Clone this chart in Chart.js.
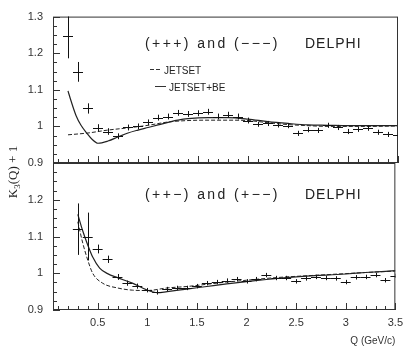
<!DOCTYPE html>
<html>
<head>
<meta charset="utf-8">
<script src="https://cdn.jsdelivr.net/npm/chart.js@4/dist/chart.umd.min.js"></script>
<style>
  body { margin: 0; background: #fff; }
  #wrap { position: relative; width: 409px; height: 347px; }
  canvas { position: absolute; left: 0; top: 0; }
</style>
</head>
<body>
<div id="wrap">
  <canvas id="top" width="409" height="347"></canvas>
  <canvas id="bot" width="409" height="347"></canvas>
</div>
<script>
// tick labels
const xTicks = [0.5, 1, 1.5, 2, 2.5, 3, 3.5];
const yTicksTop = [0.9, 1, 1.1, 1.2, 1.3];
const yTicksBot = [0.9, 1, 1.1, 1.2];

// top panel: (+++) and (---)
const qTop = [0.2, 0.3, 0.4, 0.5, 0.6, 0.7, 0.8, 0.9, 1.0, 1.1, 1.2, 1.3, 1.4, 1.5, 1.6, 1.7, 1.8,
  1.9, 2.0, 2.1, 2.2, 2.3, 2.4, 2.5, 2.6, 2.7, 2.8, 2.9, 3.0, 3.1, 3.2, 3.3, 3.4, 3.5];
const kTop = [1.246, 1.149, 1.049, 0.996, 0.986, 0.973, 0.997, 1.0, 1.011, 1.024, 1.027, 1.037, 1.034,
  1.036, 1.04, 1.027, 1.032, 1.027, 1.016, 1.006, 1.008, 1.004, 1.002, 0.981, 0.991, 0.989, 1.003,
  0.997, 0.986, 0.992, 0.995, 0.984, 0.978, 0.976];
const eTop = [0.06, 0.027, 0.014, 0.01, 0.009, 0.008, 0.008, 0.008, 0.008, 0.008, 0.008, 0.008, 0.008,
  0.008, 0.008, 0.008, 0.008, 0.008, 0.008, 0.007, 0.007, 0.007, 0.007, 0.007, 0.007, 0.007, 0.007,
  0.007, 0.007, 0.007, 0.007, 0.007, 0.007, 0.007];
const qJetTop = [0.2, 0.4, 0.6, 0.8, 1.0, 1.2, 1.4, 1.6, 1.8, 2.0, 2.2, 2.4, 2.6, 2.8, 3.0, 3.2, 3.5];
const jetTop = [0.977, 0.982, 0.99, 0.996, 1.003, 1.012, 1.016, 1.017, 1.017, 1.016, 1.01, 1.005,
  1.002, 1.0, 1.0, 1.0, 1.001];
const qBeTop = [0.2, 0.23, 0.28, 0.33, 0.39, 0.44, 0.5, 0.6, 0.7, 0.8, 0.9, 1.0, 1.1, 1.2, 1.3, 1.4,
  1.6, 1.8, 2.0, 2.2, 2.4, 2.6, 2.8, 3.0, 3.2, 3.5];
const beTop = [1.097, 1.07, 1.03, 1.003, 0.981, 0.965, 0.954, 0.96, 0.971, 0.982, 0.99, 0.997, 1.004,
  1.011, 1.017, 1.021, 1.024, 1.024, 1.02, 1.013, 1.008, 1.004, 1.003, 1.002, 1.002, 1.002];

// bottom panel: (++-) and (+--)
const qBot = [0.3, 0.4, 0.5, 0.6, 0.7, 0.8, 0.9, 1.0, 1.1, 1.2, 1.3, 1.4, 1.5, 1.6, 1.7, 1.8, 1.9,
  2.0, 2.1, 2.2, 2.3, 2.4, 2.5, 2.6, 2.7, 2.8, 2.9, 3.0, 3.1, 3.2, 3.3, 3.4, 3.5];
const kBot = [1.12, 1.10, 1.066, 1.038, 0.99, 0.973, 0.965, 0.954, 0.948, 0.957, 0.96, 0.96, 0.965,
  0.973, 0.976, 0.98, 0.984, 0.978, 0.984, 0.995, 0.987, 0.987, 0.978, 0.986, 0.99, 0.987, 0.986,
  0.976, 0.989, 0.99, 0.995, 0.981, 0.993];
const eBot = [0.07, 0.065, 0.012, 0.01, 0.008, 0.007, 0.007, 0.006, 0.006, 0.006, 0.006, 0.006, 0.006,
  0.006, 0.006, 0.006, 0.006, 0.006, 0.006, 0.006, 0.006, 0.006, 0.006, 0.006, 0.006, 0.006, 0.006,
  0.006, 0.006, 0.006, 0.006, 0.006, 0.006];
const qJetBot = [0.3, 0.35, 0.4, 0.45, 0.55, 0.7, 0.85, 1.0, 1.2, 1.4, 1.6, 1.8, 2.0, 2.2, 2.4, 2.6,
  2.8, 3.0, 3.2, 3.5];
const jetBot = [1.14, 1.082, 1.036, 1.0, 0.973, 0.96, 0.954, 0.953, 0.96, 0.964, 0.97, 0.976, 0.981,
  0.986, 0.99, 0.993, 0.996, 0.999, 1.002, 1.006];
const qBeBot = [0.3, 0.35, 0.4, 0.45, 0.52, 0.6, 0.7, 0.85, 1.0, 1.1, 1.2, 1.4, 1.6, 1.8, 2.0, 2.2,
  2.4, 2.6, 2.8, 3.0, 3.2, 3.5];
const beBot = [1.16, 1.115, 1.077, 1.044, 1.014, 0.999, 0.988, 0.973, 0.954, 0.947, 0.95, 0.957, 0.964,
  0.971, 0.977, 0.983, 0.988, 0.992, 0.995, 0.998, 1.002, 1.007];

const binHalf = 0.05;
const ink = '#222';
const font = 'Liberation Sans, Arial, sans-serif';

const pts = (xs, ys) => xs.map((x, i) => ({ x: x, y: ys[i] }));

function panelPlugin(q, k, e, texts, yTitle) {
  return {
    id: 'panel',
    afterDraw(chart) {
      const { ctx, chartArea: a, scales } = chart;
      const x = scales.x, y = scales.y;
      ctx.save();
      ctx.strokeStyle = '#333';
      ctx.lineWidth = 1;
      ctx.strokeRect(a.left + 0.5, a.top + 0.5, a.right - a.left - 1, a.bottom - a.top - 1);
      ctx.beginPath();
      for (let i = 1; i <= 35; i++) {
        const v = i / 10;
        if (v < x.min) continue;
        const px = Math.round(x.getPixelForValue(v)) + 0.5;
        const len = i % 5 === 0 ? 7 : 4;
        ctx.moveTo(px, a.bottom);
        ctx.lineTo(px, a.bottom - len);
      }
      for (let i = 0; i <= 16; i++) {
        const v = 0.9 + i * 0.025;
        const py = Math.round(y.getPixelForValue(v)) + 0.5;
        const len = i % 4 === 0 ? 7 : 4;
        ctx.moveTo(a.left, py);
        ctx.lineTo(a.left + len, py);
      }
      ctx.stroke();

      // data crosses with error bars
      ctx.save();
      ctx.beginPath();
      ctx.rect(a.left, a.top, a.right - a.left, a.bottom - a.top);
      ctx.clip();
      ctx.strokeStyle = '#111';
      ctx.beginPath();
      q.forEach((qv, i) => {
        const px = Math.round(x.getPixelForValue(qv)) + 0.5;
        const py = Math.round(y.getPixelForValue(k[i])) + 0.5;
        ctx.moveTo(x.getPixelForValue(qv - binHalf), py);
        ctx.lineTo(x.getPixelForValue(qv + binHalf), py);
        ctx.moveTo(px, y.getPixelForValue(k[i] + e[i]));
        ctx.lineTo(px, y.getPixelForValue(k[i] - e[i]));
      });
      ctx.stroke();
      ctx.restore();

      // annotations
      ctx.fillStyle = ink;
      ctx.textBaseline = 'middle';
      texts.forEach(t => {
        ctx.font = t.size + 'px ' + font;
        ctx.letterSpacing = (t.ls || 0) + 'px';
        ctx.fillText(t.text, t.x, t.y);
        if (t.sample) {
          ctx.beginPath();
          ctx.setLineDash(t.sample === 'dash' ? [4, 2] : []);
          ctx.moveTo(t.x - 14, t.y - 1.5);
          ctx.lineTo(t.x - 3, t.y - 1.5);
          ctx.stroke();
          ctx.setLineDash([]);
        }
      });
      ctx.letterSpacing = '0px';

      if (yTitle) {
        ctx.save();
        ctx.translate(13, 172);
        ctx.rotate(-Math.PI / 2);
        ctx.textBaseline = 'alphabetic';
        const f1 = '13px Liberation Serif, serif', f2 = '9px Liberation Serif, serif';
        ctx.font = f1; const wK = ctx.measureText('K').width;
        const wR = ctx.measureText('(Q) + 1').width;
        ctx.font = f2; const w3 = ctx.measureText('3').width;
        let sx = -(wK + w3 + wR) / 2;
        ctx.font = f1; ctx.fillText('K', sx, 4); sx += wK;
        ctx.font = f2; ctx.fillText('3', sx, 7); sx += w3;
        ctx.font = f1; ctx.fillText('(Q) + 1', sx, 4);
        ctx.restore();
      }
      ctx.restore();
    }
  };
}

function makeChart(id, cfg) {
  return new Chart(document.getElementById(id), {
    type: 'line',
    data: {
      datasets: [
        {
          label: 'JETSET',
          data: pts(cfg.qJet, cfg.jet),
          borderColor: ink,
          borderWidth: 1,
          borderDash: [4, 2],
          pointRadius: 0,
          cubicInterpolationMode: 'monotone'
        },
        {
          label: 'JETSET+BE',
          data: pts(cfg.qBe, cfg.be),
          borderColor: ink,
          borderWidth: 1.2,
          pointRadius: 0,
          cubicInterpolationMode: 'monotone'
        }
      ]
    },
    options: {
      responsive: false,
      animation: false,
      devicePixelRatio: 1,
      layout: { padding: cfg.padding },
      plugins: { legend: { display: false }, tooltip: { enabled: false } },
      scales: {
        x: {
          type: 'linear',
          min: 0.05,
          max: 3.5,
          grid: { display: false, drawTicks: false },
          border: { display: false },
          afterBuildTicks: s => { s.ticks = xTicks.map(v => ({ value: v })); },
          afterFit: s => { s.height = cfg.xHeight; },
          ticks: {
            display: cfg.xLabels,
            padding: 6,
            color: '#333',
            font: { family: font, size: 11 },
            maxRotation: 0,
            autoSkip: false,
            callback: v => String(v)
          },
          title: {
            display: cfg.xLabels,
            text: 'Q (GeV/c)',
            align: 'end',
            color: '#333',
            font: { family: font, size: 10 },
            padding: { top: 1, bottom: 0 }
          }
        },
        y: {
          min: 0.9,
          max: 1.3,
          grid: { display: false, drawTicks: false },
          border: { display: false },
          afterBuildTicks: s => { s.ticks = cfg.yTicks.map(v => ({ value: v })); },
          afterFit: s => { s.width = 40; },
          ticks: {
            padding: 10,
            color: '#333',
            font: { family: font, size: 11 },
            callback: v => String(v)
          }
        }
      }
    },
    plugins: [panelPlugin(cfg.q, cfg.k, cfg.e, cfg.texts, cfg.yTitle)]
  });
}

makeChart('top', {
  qJet: qJetTop, jet: jetTop, qBe: qBeTop, be: beTop,
  q: qTop, k: kTop, e: eTop,
  yTicks: yTicksTop,
  xLabels: false,
  xHeight: 0,
  padding: { left: 13, right: 11, top: 15, bottom: 184 },
  yTitle: false,
  texts: [
    { text: '(+++) and (\u2212\u2212\u2212)', x: 145, y: 44, size: 14, ls: 2.4 },
    { text: 'DELPHI', x: 305, y: 44, size: 14, ls: 1 },
    { text: 'JETSET', x: 164, y: 71, size: 10, sample: 'dash' },
    { text: 'JETSET+BE', x: 169, y: 88, size: 10, sample: 'solid' }
  ]
});

makeChart('bot', {
  qJet: qJetBot, jet: jetBot, qBe: qBeBot, be: beBot,
  q: qBot, k: kBot, e: eBot,
  yTicks: yTicksBot,
  xLabels: true,
  xHeight: 37,
  padding: { left: 13, right: 11, top: 163, bottom: 0 },
  yTitle: true,
  texts: [
    { text: '(++\u2212) and (+\u2212\u2212)', x: 145, y: 195, size: 14, ls: 2.4 },
    { text: 'DELPHI', x: 305, y: 195, size: 14, ls: 1 }
  ]
});
</script>
</body>
</html>
